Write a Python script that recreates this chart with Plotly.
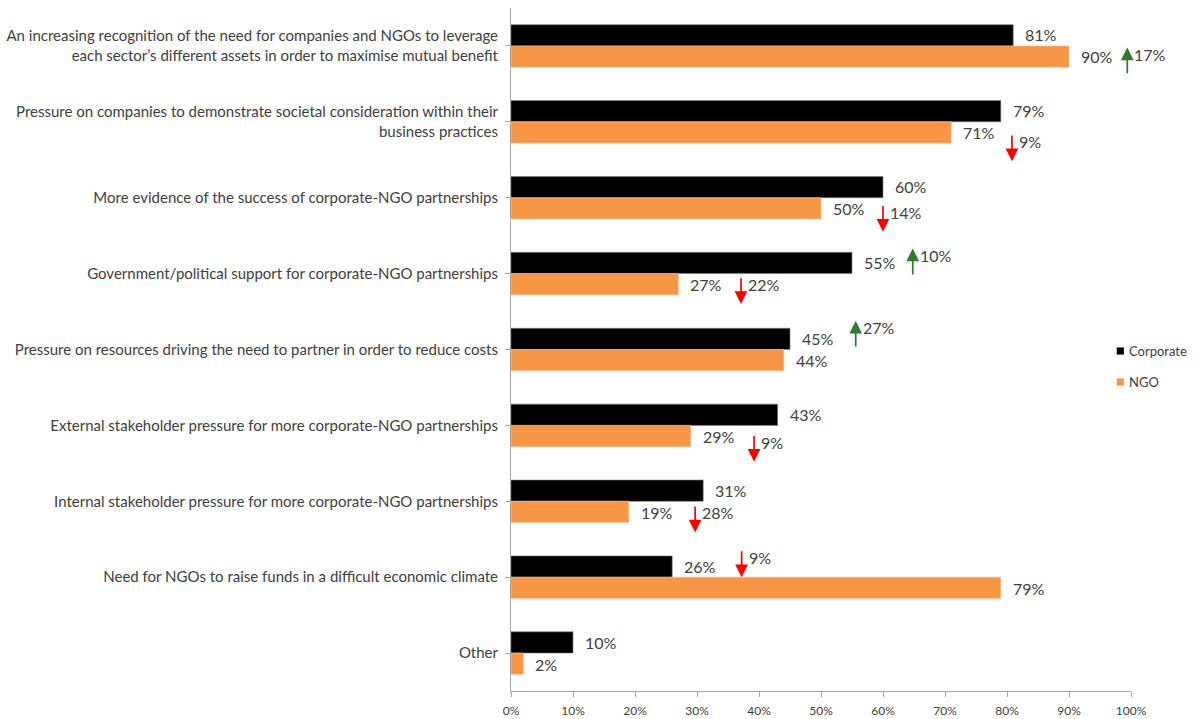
import plotly.graph_objects as go

# Drivers of corporate-NGO partnerships, listed top to bottom
categories = [
    "An increasing recognition of the need for companies and NGOs to leverage<br>each sector\u2019s different assets in order to maximise mutual benefit",
    "Pressure on companies to demonstrate societal consideration within their<br>business practices",
    "More evidence of the success of corporate-NGO partnerships",
    "Government/political support for corporate-NGO partnerships",
    "Pressure on resources driving the need to partner in order to reduce costs",
    "External stakeholder pressure for more corporate-NGO partnerships",
    "Internal stakeholder pressure for more corporate-NGO partnerships",
    "Need for NGOs to raise funds in a difficult economic climate",
    "Other",
]
series_names = ["Corporate", "NGO"]
corporate = [81, 79, 60, 55, 45, 43, 31, 26, 10]
ngo = [90, 71, 50, 27, 44, 29, 19, 79, 2]

# Year-on-year change markers
change_cat = [0, 1, 2, 3, 3, 4, 5, 6, 7]
change_label = ["17%", "9%", "14%", "10%", "22%", "27%", "9%", "28%", "9%"]
change_dir = ["up", "down", "down", "up", "down", "up", "down", "down", "down"]
# marker placement: x in percent, vertical offset from the category centre
change_x = [99.4, 80.8, 60.0, 64.8, 37.1, 55.6, 39.2, 29.7, 37.2]
change_dy = [0.11, 0.26, 0.19, -0.24, 0.14, -0.29, 0.22, 0.15, -0.26]

tick_vals = list(range(0, 101, 10))
tick_text = [f"{v}%" for v in tick_vals]

FONT = "Lato"
TXT = "#404040"
BLACK = "#000000"
ORANGE = "#F79646"
RED = "#FF0000"
GREEN = "#2F7A2F"
colors = [BLACK, ORANGE]

idx = list(range(len(categories)))

fig = go.Figure()
fig.add_trace(go.Bar(
    y=idx, x=corporate, orientation="h", name=series_names[0],
    marker=dict(color=BLACK, line=dict(color="#7F7F7F", width=0.6)),
    showlegend=False,
))
fig.add_trace(go.Bar(
    y=idx, x=ngo, orientation="h", name=series_names[1],
    marker=dict(color=ORANGE, line=dict(color="#FAC090", width=0.6)),
    showlegend=False,
))

annotations = []
shapes = []
# value labels just past each bar end
BAR_OFF = 0.145
for i in idx:
    annotations.append(dict(
        x=corporate[i], y=i - BAR_OFF, xref="x", yref="y",
        text=f"{corporate[i]}%", showarrow=False, xanchor="left",
        xshift=10, font=dict(family=FONT, size=16, color=TXT),
    ))
    annotations.append(dict(
        x=ngo[i], y=i + BAR_OFF, xref="x", yref="y",
        text=f"{ngo[i]}%", showarrow=False, xanchor="left",
        xshift=10, font=dict(family=FONT, size=16, color=TXT),
    ))

# change arrows with their labels
for c, lab, d, xv, dy in zip(change_cat, change_label, change_dir, change_x, change_dy):
    ty = c + dy
    if d == "up":
        tail, tip, col = ty + 0.27, ty - 0.09, GREEN
    else:
        tail, tip, col = ty - 0.10, ty + 0.26, RED
    annotations.append(dict(
        x=xv, y=tip, ax=xv, ay=tail, xref="x", yref="y", axref="x", ayref="y",
        text="", showarrow=True, arrowhead=2, arrowsize=1.5, arrowwidth=1.7,
        arrowcolor=col, standoff=0,
    ))
    annotations.append(dict(
        x=xv, y=ty, xref="x", yref="y", text=lab, showarrow=False,
        xanchor="left", xshift=5, font=dict(family=FONT, size=16, color=TXT),
    ))

# compact legend at the right edge: small swatch + series name
LEG_X = 0.977                 # swatch left edge (paper)
LEG_Y = [0.4978, 0.4524]      # item centres (paper)
SW_W, SW_H = 0.0115, 0.0105
for name, col, ly in zip(series_names, colors, LEG_Y):
    shapes.append(dict(
        type="rect", xref="paper", yref="paper",
        x0=LEG_X, x1=LEG_X + SW_W, y0=ly - SW_H / 2, y1=ly + SW_H / 2,
        fillcolor=col, line=dict(width=0),
    ))
    annotations.append(dict(
        x=LEG_X + SW_W, y=ly, xref="paper", yref="paper", text=name,
        showarrow=False, xanchor="left", yanchor="middle", xshift=3,
        font=dict(family=FONT, size=13, color=TXT),
    ))

fig.update_layout(
    width=1202, height=719,
    margin=dict(l=511, r=71, t=8, b=28, autoexpand=False),
    paper_bgcolor="white", plot_bgcolor="white",
    barmode="group", bargap=0.44, bargroupgap=0,
    font=dict(family=FONT, size=15, color=TXT),
    showlegend=False,
    annotations=annotations,
    shapes=shapes,
)
fig.update_xaxes(
    range=[0, 100], tickvals=tick_vals, ticktext=tick_text,
    showgrid=False, zeroline=False, showline=True, linecolor="#A6A6A6",
    linewidth=1, ticks="outside", ticklen=5, tickcolor="#A6A6A6",
    ticklabelstandoff=4,
    tickfont=dict(family=FONT, size=12, color=TXT),
)
fig.update_yaxes(
    tickvals=idx, ticktext=categories, range=[8.5, -0.5],
    showgrid=False, zeroline=False, showline=True, linecolor="#A6A6A6",
    linewidth=1, ticks="outside", ticklen=5, tickcolor="#A6A6A6",
    tickson="boundaries", ticklabelstandoff=4,
    tickfont=dict(family=FONT, size=15, color=TXT),
)

fig.write_html("out.html")
